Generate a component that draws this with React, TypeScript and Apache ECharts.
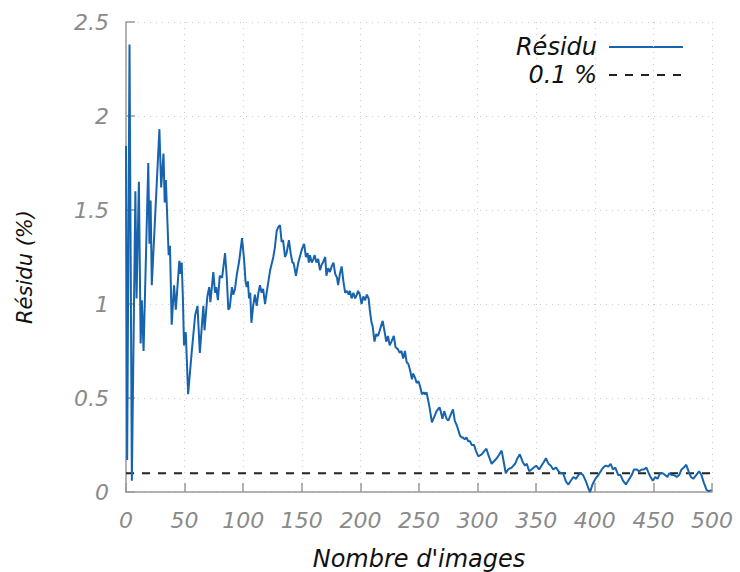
import React, { useEffect, useRef } from "react";
import * as echarts from "echarts";

const imageCounts: number[] = [
  0, 1, 3, 5, 8, 9, 11, 12.5, 13.5, 15, 19, 20, 21, 22, 28.5, 30, 32, 33, 34, 36.4, 37.5, 39, 41, 42.5, 45.5, 46.5, 47.5, 48.5,
  49.5, 51, 53, 56, 59, 61, 63, 66, 67, 69.4, 71, 72, 74.5, 76, 77, 78.4, 80, 82, 84.5, 86, 87.3, 88.5, 90.4, 91.5, 93, 94.4,
  96.6, 99, 100.7, 102, 103, 104, 105, 106, 107, 108.5, 110, 111.5, 113, 114.3, 115.7, 117, 118.6, 120, 123, 125.7,
  127, 128.6, 130, 131.4, 132.8, 134, 135.7, 137, 139, 140.5, 142, 143, 145, 147, 150, 152, 153.5, 155, 156, 157, 158.5, 160,
  161, 162.5, 164, 165.5, 167, 168, 170, 171, 172.5, 174, 175.5, 177, 178.5, 180, 181, 182.5, 184, 185.5, 187, 188.5, 190,
  191, 192.5, 194, 195.5, 197, 198, 199.5, 201, 202.5, 204, 205.5, 207, 208,
  209.5, 210.5, 212, 213.5, 215, 216, 219, 221, 222, 223.5, 225, 226.5, 228.5, 230, 232, 233.5, 235, 236.5, 238, 239.5, 241,
  242.3, 244, 245, 246.5, 248, 249.5, 251, 252.5, 254, 255, 256.5, 259, 261, 263, 265, 267.5, 268.5, 270, 271.5, 273.5, 275,
  277, 279, 280.5, 282.5, 285, 286.5, 287.5, 289, 290.5, 292, 293.5, 295, 297, 298.5,
  300.6, 303.5, 306, 307.5, 309, 312, 315, 317.5, 320.5, 322, 324, 326, 329, 332, 334, 336, 338.5, 340.5, 342, 344, 346, 348,
  350, 352.5, 354.5, 356.5, 358.3, 360.5, 362.5, 364.5, 367, 369, 371, 373, 375.4, 377.5, 379.5, 381.7, 384, 386, 388, 390,
  392.5, 394.5, 396, 398, 400.5, 403, 406, 408, 409.5, 411.5, 413.5, 415.5, 417.5, 420, 422, 424, 426.5, 428.5, 431.5, 433.5,
  435.5, 438, 440, 442, 444, 446, 447.6, 449.5, 451.5, 453.5, 455.6, 458, 460, 462, 463.5, 465.5, 467.5, 470, 472, 474, 476,
  478, 480, 482, 484, 486.5, 489, 491, 493, 495.5, 497.5, 499.5,
];

const residuValues: number[] = [
  1.84, 0.17, 2.38, 0.06, 1.6, 1.03, 1.65, 0.79, 1.02, 0.75, 1.75, 1.32, 1.55, 1.1, 1.93, 1.62, 1.8, 1.54, 1.66, 1.26, 1.31, 0.89, 1.1, 0.97, 1.23, 1.16, 1.22, 1.04,
  0.78, 0.85, 0.52, 0.74, 0.94, 0.99, 0.74, 0.99, 0.86, 1.04, 1.09, 1.01, 1.17, 1.06, 1.09, 1.02, 1.15, 1.14, 1.27, 1.14, 0.97, 0.98, 1.09, 1.05, 1.08, 1.15,
  1.23, 1.35, 1.24, 1.12, 1.09, 1.12, 1.03, 1.06, 0.9, 0.99, 1.05, 0.99, 1.06, 1.1, 1.06, 1.08, 1.0, 1.06, 1.18, 1.25,
  1.3, 1.39, 1.41, 1.42, 1.33, 1.34, 1.25, 1.27, 1.34, 1.27, 1.22, 1.22, 1.15, 1.22, 1.29, 1.32, 1.25, 1.27, 1.22, 1.26, 1.22, 1.24,
  1.26, 1.22, 1.24, 1.18, 1.21, 1.22, 1.25, 1.15, 1.19, 1.17, 1.2, 1.22, 1.16, 1.14, 1.1, 1.16, 1.2, 1.12, 1.06, 1.07, 1.05,
  1.07, 1.03, 1.06, 1.03, 1.05, 1.07, 1.05, 1.0, 1.04, 1.02, 1.05, 1.03, 0.97,
  0.9, 0.88, 0.8, 0.84, 0.83, 0.85, 0.91, 0.84, 0.8, 0.83, 0.78, 0.8, 0.83, 0.77, 0.76, 0.74, 0.75, 0.71, 0.75, 0.69, 0.68,
  0.65, 0.6, 0.63, 0.61, 0.58, 0.59, 0.56, 0.52, 0.53, 0.52, 0.53, 0.45, 0.37, 0.4, 0.43, 0.45, 0.43, 0.39, 0.43, 0.39, 0.38,
  0.41, 0.44, 0.38, 0.35, 0.3, 0.29, 0.29, 0.28, 0.29, 0.27, 0.27, 0.25, 0.25, 0.22,
  0.19, 0.2, 0.22, 0.23, 0.2, 0.15, 0.17, 0.19, 0.22, 0.17, 0.1, 0.12, 0.13, 0.15, 0.18, 0.2, 0.16, 0.14, 0.15, 0.11, 0.12, 0.13,
  0.14, 0.12, 0.14, 0.16, 0.18, 0.15, 0.14, 0.12, 0.13, 0.11, 0.1, 0.1, 0.055, 0.04, 0.06, 0.08, 0.07, 0.09, 0.1, 0.09,
  0.055, 0.02, 0.0, 0.04, 0.07, 0.09, 0.12, 0.135, 0.14, 0.135, 0.15, 0.12, 0.13, 0.09, 0.09, 0.06, 0.04, 0.06, 0.09, 0.12,
  0.12, 0.11, 0.12, 0.12, 0.13, 0.1, 0.08, 0.06, 0.08, 0.07, 0.1, 0.1, 0.09, 0.08, 0.1, 0.09, 0.09, 0.08, 0.09, 0.12, 0.13,
  0.145, 0.11, 0.08, 0.07, 0.09, 0.11, 0.09, 0.05, 0.01, 0.005, 0.01,
];

const thresholdX: number[] = [0, 500];
const thresholdY: number[] = [0.1, 0.1];

const seriesNames: string[] = ["Résidu", "0.1 %"];
const xAxisTitle = "Nombre d'images";
const yAxisTitle = "Résidu (%)";

const FONT = "DejaVu Sans";
const BLUE = "#1763ae";

export default function App() {
  const ref = useRef<HTMLDivElement>(null);
  useEffect(() => {
    if (!ref.current) return;
    const chart = echarts.init(ref.current, null, { renderer: "svg" });
    const residu = imageCounts.map((x, i) => [x, residuValues[i]]);
    const threshold = thresholdX.map((x, i) => [x, thresholdY[i]]);
    const labelStyle = {
      fontFamily: FONT,
      fontStyle: "italic" as const,
      fontSize: 22,
      color: "#8a8a8a",
    };
    const legendText = (text: string, y: number) => ({
      type: "text",
      x: 597,
      y,
      style: {
        text,
        fontFamily: FONT,
        fontStyle: "italic",
        fontSize: 24,
        fill: "#111",
        textAlign: "right",
        textVerticalAlign: "middle",
      },
    });
    chart.setOption({
      animation: false,
      backgroundColor: "#ffffff",
      grid: { left: 126, right: 28, top: 22, bottom: 80, containLabel: false, outerBoundsMode: "none" },
      xAxis: {
        type: "value",
        min: 0,
        max: 500,
        interval: 50,
        name: xAxisTitle,
        nameLocation: "middle",
        nameGap: 55,
        nameTextStyle: { fontFamily: FONT, fontStyle: "italic", fontSize: 24, color: "#111" },
        axisLine: { show: true, lineStyle: { color: "#9a9a9a", width: 1.5 } },
        axisTick: { show: true, inside: true, length: 9, lineStyle: { color: "#9a9a9a", width: 1.5 } },
        axisLabel: { ...labelStyle, margin: 17 },
        splitLine: { show: true, lineStyle: { color: "#cccccc", width: 1, type: [1, 5] } },
      },
      yAxis: {
        type: "value",
        min: 0,
        max: 2.5,
        interval: 0.5,
        axisLine: { show: true, lineStyle: { color: "#9a9a9a", width: 1.5 } },
        axisTick: { show: true, inside: true, length: 9, lineStyle: { color: "#9a9a9a", width: 1.5 } },
        axisLabel: { ...labelStyle, margin: 17 },
        splitLine: { show: true, lineStyle: { color: "#cccccc", width: 1, type: [1, 5] } },
      },
      graphic: [
        {
          type: "text",
          x: 25,
          y: 267,
          rotation: Math.PI / 2,
          style: {
            text: yAxisTitle,
            fontFamily: FONT,
            fontStyle: "italic",
            fontSize: 21,
            fill: "#111",
            textAlign: "center",
            textVerticalAlign: "middle",
          },
        },
        legendText(seriesNames[0], 47),
        legendText(seriesNames[1], 75),
        {
          type: "line",
          shape: { x1: 609, y1: 47, x2: 683, y2: 47 },
          style: { stroke: BLUE, lineWidth: 2 },
        },
        {
          type: "line",
          shape: { x1: 609, y1: 75, x2: 683, y2: 75 },
          style: { stroke: "#222", lineWidth: 2, lineDash: [8, 8] },
        },
      ],
      series: [
        {
          name: seriesNames[0],
          type: "line",
          data: residu,
          showSymbol: false,
          symbol: "none",
          lineStyle: { color: BLUE, width: 2 },
          z: 3,
        },
        {
          name: seriesNames[1],
          type: "line",
          data: threshold,
          showSymbol: false,
          symbol: "none",
          lineStyle: { color: "#222", width: 2, type: [8, 8] },
          z: 2,
        },
      ],
    });
    return () => chart.dispose();
  }, []);
  return <div ref={ref} style={{ width: 740, height: 572, position: "absolute", left: 0, top: 0 }} />;
}
